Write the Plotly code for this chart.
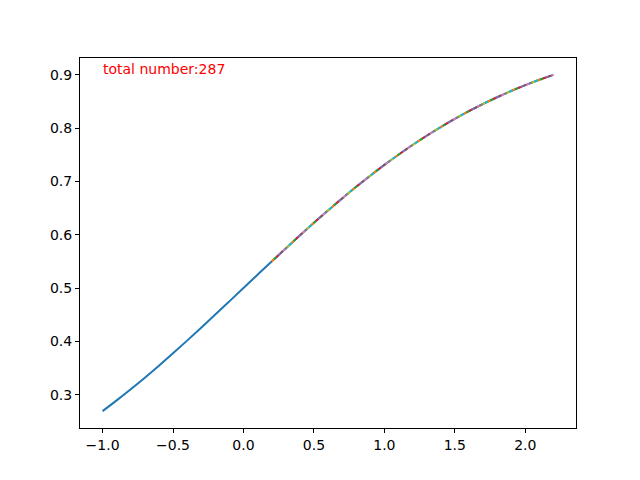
import plotly.graph_objects as go

# curve
x_vals = [-1.0, -0.9, -0.8, -0.7, -0.6, -0.5, -0.4, -0.3, -0.2, -0.1, 0.0,
          0.1, 0.2, 0.3, 0.4, 0.5, 0.6, 0.7, 0.8, 0.9, 1.0,
          1.1, 1.2, 1.3, 1.4, 1.5, 1.6, 1.7, 1.8, 1.9, 2.0, 2.1, 2.2]
y_vals = [0.2689, 0.2891, 0.3100, 0.3318, 0.3543, 0.3775, 0.4013, 0.4256, 0.4502, 0.4750, 0.5000,
          0.5250, 0.5498, 0.5744, 0.5987, 0.6225, 0.6457, 0.6682, 0.6900, 0.7109, 0.7311,
          0.7503, 0.7685, 0.7858, 0.8022, 0.8176, 0.8320, 0.8455, 0.8581, 0.8699, 0.8808, 0.8909, 0.9002]
fit_start = 0.2
total_number = 287

x_ticks = [-1.0, -0.5, 0.0, 0.5, 1.0, 1.5, 2.0]
y_ticks = [0.3, 0.4, 0.5, 0.6, 0.7, 0.8, 0.9]

DASH_COLORS = ["#ff7f0e", "#2ca02c", "#d62728", "#9467bd", "#8c564b",
               "#e377c2", "#7f7f7f", "#bcbd22", "#17becf"]

fig = go.Figure()

# main curve
fig.add_trace(go.Scatter(
    x=x_vals, y=y_vals, mode="lines",
    line=dict(color="#1f77b4", width=2, shape="spline"),
))

# overlaid dashed fits, staggered so the colours interleave
fx = [x for x in x_vals if x >= fit_start - 1e-9]
fy = [y for x, y in zip(x_vals, y_vals) if x >= fit_start - 1e-9]
seg = 3
period = seg * len(DASH_COLORS)
for i, c in enumerate(DASH_COLORS):
    off = seg * i
    fig.add_trace(go.Scatter(
        x=fx, y=fy, mode="lines",
        line=dict(color=c, width=2, shape="spline",
                  dash=f"0px,{off}px,{seg}px,{period - off - seg}px"),
    ))

fig.add_annotation(
    x=x_vals[0], y=0.9, text=f"total number:{total_number}",
    xanchor="left", yanchor="bottom", showarrow=False,
    xshift=-2, yshift=-4,
    font=dict(color="red", size=14),
)

axis_style = dict(
    showgrid=False, zeroline=False,
    showline=True, linecolor="black", linewidth=1, mirror=True,
    ticks="outside", ticklen=4, tickcolor="black",
    tickfont=dict(size=14, color="black"),
)

# page body adds an 8px offset, so margins are trimmed to match
fig.update_layout(
    width=640, height=480,
    margin=dict(l=72, r=72, t=50, b=60),
    paper_bgcolor="white", plot_bgcolor="white",
    font=dict(family="DejaVu Sans", color="black"),
    showlegend=False,
    xaxis=dict(range=[-1.16, 2.36], tickvals=x_ticks,
               ticktext=[f"{v:.1f}".replace("-", "\u2212") for v in x_ticks],
               **axis_style),
    yaxis=dict(range=[0.2373, 0.9318], tickvals=y_ticks,
               ticktext=[f"{v:.1f}" for v in y_ticks],
               **axis_style),
)

fig.write_html("out.html")
